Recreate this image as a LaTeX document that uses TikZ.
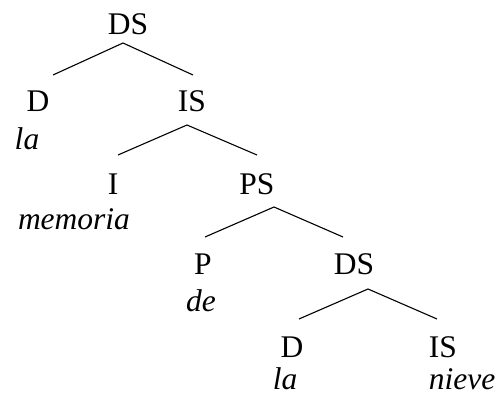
\documentclass[tikz,border=0pt]{standalone}
\usepackage{fontspec}
\setmainfont{Liberation Serif}
\usetikzlibrary{calc}

\begin{document}
\begin{tikzpicture}[x=1pt, y=1pt,
    cat/.style={inner sep=0pt, anchor=base, font=\fontsize{31.5}{36}\selectfont},
    word/.style={cat, font=\fontsize{31.5}{36}\selectfont\itshape},
    branch/.style={line width=1.1pt}]
    \useasboundingbox (0,0) rectangle (499,394);

    % Categories
    \node[cat] (ds1) at (128, 359) {DS};
    \node[cat] (d1)  at (38, 282)  {D};
    \node[cat] (is1) at (192, 282) {IS};
    \node[cat] (i2)  at (113, 199) {I};
    \node[cat] (ps)  at (257, 199) {PS};
    \node[cat] (p)   at (203, 119) {P};
    \node[cat] (ds2) at (354, 119) {DS};
    \node[cat] (d2)  at (292, 36)  {D};
    \node[cat] (is2) at (443, 36)  {IS};

    % Words
    \node[word] (la1)  at (27, 244)  {la};
    \node[word] (mem)  at (74, 164)  {memoria};
    \node[word] (de)   at (201, 82)  {de};
    \node[word] (la2)  at (285, 4)   {la};
    \node[word] (niev) at (462, 4)   {nieve};

    % Branches
    \draw[branch] ([shift={(15,37)}]d1.base) -- ([shift={(-5,-8)}]ds1.base) -- ([shift={(1,37)}]is1.base);
    \draw[branch] ([shift={(5,40)}]i2.base) -- ([shift={(-5,-13)}]is1.base) -- ([shift={(0,40)}]ps.base);
    \draw[branch] ([shift={(2,38)}]p.base) -- ([shift={(17,-12)}]ps.base) -- ([shift={(-11,38)}]ds2.base);
    \draw[branch] ([shift={(7,39)}]d2.base) -- ([shift={(14,-14)}]ds2.base) -- ([shift={(-6,39)}]is2.base);
\end{tikzpicture}
\end{document}
